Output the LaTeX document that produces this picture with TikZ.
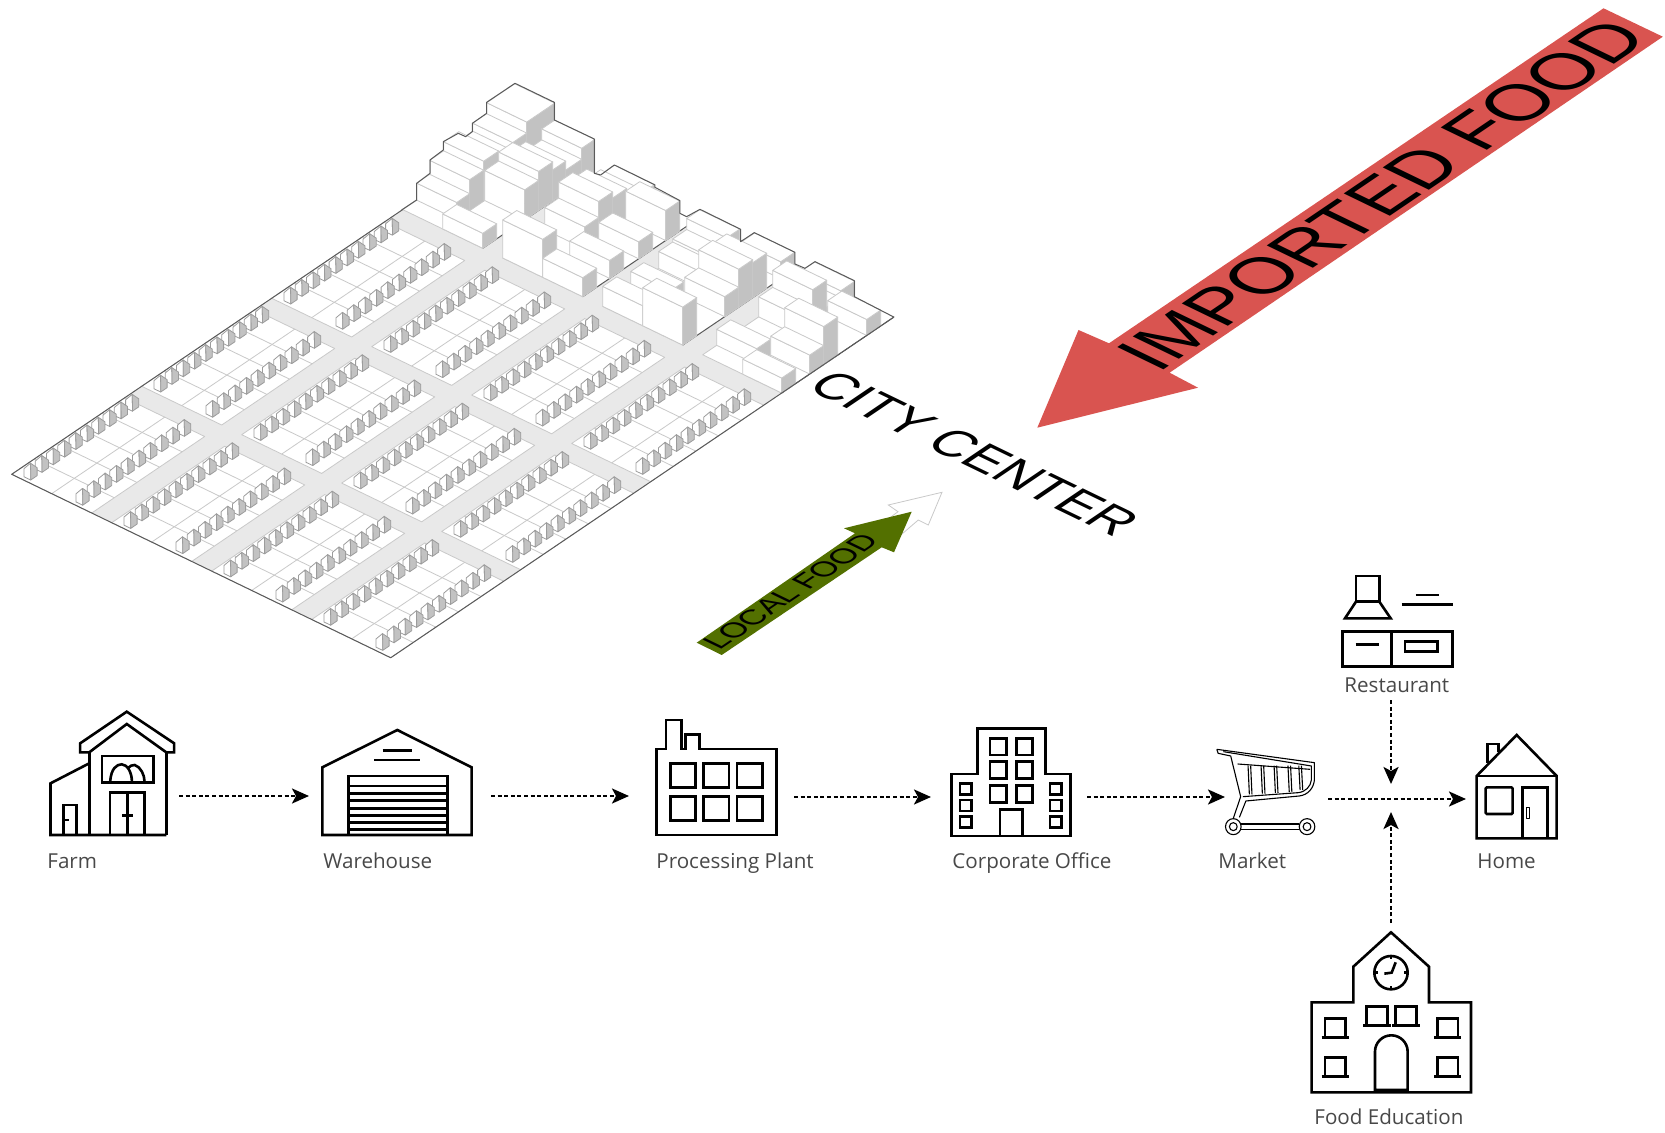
\documentclass[tikz,border=0pt]{standalone}
\usepackage{fontspec}
\setmainfont{Open Sans}
\newfontfamily\isofont{Liberation Sans}
\usetikzlibrary{arrows.meta}

% small house at lot position: front corner a=#1, b=#2
\newcommand{\lothouse}[2]{%
  \filldraw[houseline, fill=white] (#1,#2-6.8,0) -- (#1,#2,0) -- (#1,#2,8) -- (#1+3.2,#2-3.4,13) -- (#1,#2-6.8,8) -- cycle;
  \filldraw[houseline, fill=facegray] (#1,#2,0) -- (#1+6.4,#2,0) -- (#1+6.4,#2,8) -- (#1+3.2,#2-3.4,13) -- (#1,#2,8) -- cycle;
}
% block: a1, a2, b1, b2, height
\newcommand{\bldgbox}[5]{%
  \filldraw[lotline, fill=white] (#1,#3,0) -- (#1,#4,0) -- (#1,#4,#5) -- (#1,#3,#5) -- cycle;
  \filldraw[lotline, fill=facegray] (#1,#4,0) -- (#2,#4,0) -- (#2,#4,#5) -- (#1,#4,#5) -- cycle;
  \filldraw[lotline, fill=white] (#1,#3,#5) -- (#2,#3,#5) -- (#2,#4,#5) -- (#1,#4,#5) -- cycle;
}

\definecolor{roadgray}{HTML}{E9E9E9}
\definecolor{facegray}{HTML}{C2C2C2}
\definecolor{edgegray}{HTML}{5A5A5A}
\definecolor{linegray}{HTML}{C9C9C9}
\definecolor{housegray}{HTML}{9C9C9C}
\definecolor{importred}{HTML}{D95450}
\definecolor{localgreen}{HTML}{537000}
\definecolor{labelgray}{HTML}{484848}

\begin{document}
\begin{tikzpicture}[
  x=0.5pt, y=-0.5pt,
  lotline/.style={draw=linegray, line width=0.4pt, line join=round},
  houseline/.style={draw=housegray, line width=0.4pt, line join=round},
  edgeline/.style={draw=edgegray, line width=0.5pt, line join=round},
  icon/.style={draw=black, line width=1.3pt, line join=miter},
  iconthin/.style={draw=black, line width=0.55pt, line join=round},
  arr/.style={-{Stealth[length=8.5pt,width=7.5pt,inset=2pt]}, line width=1.3pt,
              dash pattern=on 2pt off 1.3pt},
  lab/.style={font=\fontsize{10.3pt}{12pt}\selectfont, text=labelgray, anchor=base west, inner sep=0pt},
  flat/.style={anchor=base west, inner sep=0pt, transform shape},
]
\useasboundingbox (0,0) rectangle (1665,1133);

% --- GROUND, in plan coordinates ---
\begin{scope}[shift={(11.7,474.3)}, x={(0.5pt,0.3385pt)}, y={(0.5pt,-0.242pt)}, z={(0pt,0.5pt)}]
  \fill[roadgray] (0,0,0) -- (503,0,0) -- (503,379,0) -- (0,379,0) -- cycle;
  % --- LOTS ---
  \foreach \ca in {0,130,260}{
    \foreach \cb/\cw in {0/80,100/80,200/80,300/79}{
      \filldraw[lotline, fill=white] (\ca,\cb,0) -- (\ca+113,\cb,0) -- (\ca+113,\cb+\cw,0) -- (\ca,\cb+\cw,0) -- cycle;
      \draw[lotline] (\ca,\cb+40,0) -- (\ca+113,\cb+40,0);
      \foreach \k in {1,...,4}{
        \draw[lotline] (\ca+\k*22.6,\cb,0) -- (\ca+\k*22.6,\cb+\cw,0);
      }
      \foreach \k in {9,8,...,0}{
        \pgfmathsetmacro{\ha}{\ca+3+\k*11.3}
        \lothouse{\ha}{\cb+16}
        \lothouse{\ha}{\cb+68}
      }
    }
  }
  % --- BUILDING ZONES ---
  \foreach \cb/\cw in {0/80,100/80,200/80,300/79}{
    \fill[white] (391,\cb,0) -- (503,\cb,0) -- (503,\cb+\cw,0) -- (391,\cb+\cw,0) -- cycle;
    \draw[lotline] (503,\cb,0) -- (391,\cb,0) -- (391,\cb+\cw,0);
    \draw[edgeline] (391,\cb+\cw,0) -- (503,\cb+\cw,0);
  }
  % zone 1
  \bldgbox{475}{503}{0}{40}{50}
  \bldgbox{461}{475}{0}{40}{39}
  \bldgbox{447}{461}{0}{40}{31}
  \bldgbox{432}{447}{0}{40}{40}
  \bldgbox{418}{432}{0}{40}{31}
  \bldgbox{405}{418}{0}{40}{17}
  \bldgbox{490}{503}{40}{80}{33}
  \bldgbox{474}{490}{40}{80}{22}
  \bldgbox{461}{474}{40}{80}{31}
  \bldgbox{447}{461}{40}{80}{39}
  \bldgbox{433}{447}{40}{80}{30}
  \bldgbox{391}{405}{40}{80}{15}
  % zone 2
  \bldgbox{489}{503}{100}{140}{17}
  \bldgbox{475}{489}{100}{140}{22}
  \bldgbox{461}{475}{100}{140}{32}
  \bldgbox{447}{461}{100}{140}{38}
  \bldgbox{433}{447}{100}{140}{22}
  \bldgbox{391}{405}{100}{140}{38}
  \bldgbox{474}{488}{140}{180}{30}
  \bldgbox{447}{461}{140}{180}{17}
  \bldgbox{418}{432}{140}{180}{18}
  \bldgbox{391}{405}{140}{180}{19}
  % zone 3
  \bldgbox{475}{488}{200}{240}{31}
  \bldgbox{461}{475}{200}{240}{20}
  \bldgbox{447}{461}{200}{240}{17}
  \bldgbox{419}{432}{200}{240}{16}
  \bldgbox{391}{405}{200}{240}{20}
  \bldgbox{489}{503}{240}{280}{17}
  \bldgbox{461}{475}{240}{280}{35}
  \bldgbox{447}{461}{240}{280}{38}
  \bldgbox{433}{447}{240}{280}{20}
  \bldgbox{391}{405}{240}{280}{38}
  % zone 4
  \bldgbox{489}{503}{300}{340}{17}
  \bldgbox{475}{489}{300}{340}{10}
  \bldgbox{461}{475}{300}{340}{37}
  \bldgbox{447}{461}{300}{340}{20}
  \bldgbox{405}{419}{300}{340}{16}
  \bldgbox{476}{490}{340}{379}{16}
  \bldgbox{433}{447}{340}{379}{38}
  \bldgbox{419}{433}{340}{379}{19}
  \bldgbox{391}{405}{340}{379}{15}
  % outer edge
  \draw[edgeline] (391,0,0) -- (0,0,0) -- (0,379,0) -- (503,379,0);
\end{scope}
% --- skyline ---
\begin{scope}[shift={(400,70)}, scale=0.3333]
  \draw[edgeline] (5,420) -- (50,390) -- (50,340) -- (90,310) -- (90,270) -- (130,240) -- (130,215) -- (175,190)
    -- (197,200) -- (217,185) -- (217,160) -- (260,130) -- (260,97) -- (345,40) -- (463,97) -- (463,150)
    -- (583,207) -- (583,310) -- (602,315) -- (643,285) -- (765,345) -- (765,352) -- (840,392) -- (840,430) -- (860,440)
    -- (900,418) -- (1022,478) -- (1022,515) -- (1063,488) -- (1185,547) -- (1185,582) -- (1215,595)
    -- (1245,575) -- (1363,632) -- (1363,680) -- (1483,742);
\end{scope}

% --- ARROWS ON THE GROUND ---
\fill[importred] (1603.5,8.3) -- (1662.8,36.7) -- (1169.6,372.7) -- (1198,387.7) -- (1037.3,427.7)
  -- (1078.5,330) -- (1109,343.3) -- cycle;
\node[flat, font=\isofont\fontsize{30pt}{30pt}\selectfont, cm={0.976,0.661,-1.117,0.541,(1158,373.6)}]
  (imported) at (0,0) {IMPORTED FOOD};
\node[flat, font=\isofont\fontsize{25pt}{25pt}\selectfont, cm={0.928,-0.449,0.84,0.569,(805,388)}]
  (citycenter) at (0,0) {CITY CENTER};
\filldraw[draw=linegray, fill=white, line width=0.4pt] (942,492.3) -- (928.3,525) -- (918.3,520) -- (895,540)
  -- (880,525) -- (898,511.7) -- (888.3,505) -- cycle;
\fill[localgreen] (696.7,642.7) -- (855,533.3) -- (844,528.3) -- (911.7,511.7) -- (894,552.3) -- (881.7,547.3)
  -- (721.7,655) -- cycle;
\node[flat, font=\isofont\fontsize{14pt}{14pt}\selectfont, cm={0.893,0.604,-0.97,0.47,(719,651)}]
  (localfood) at (0,0) {LOCAL FOOD};

% --- FARM + WAREHOUSE ---
\begin{scope}[shift={(30,700)}, xscale=0.395, yscale=0.3333]
  \draw[icon] (127,130) -- (245,35) -- (365,130) -- (365,157) -- (345,157) -- (245,72) -- (150,157) -- (127,157) -- cycle;
  \draw[icon] (150,157) -- (150,405);
  \draw[icon] (345,157) -- (345,405);
  \draw[icon] (150,190) -- (52,250) -- (52,405) -- (345,405);
  \draw[icon] (182,168) rectangle (312,247);
  \draw[icon] (203,245) .. controls (205,205) and (220,193) .. (232,193) .. controls (245,193) and (258,215) .. (258,245);
  \draw[icon] (247,205) .. controls (252,197) and (260,195) .. (265,195) .. controls (280,200) and (290,225) .. (290,245);
  \draw[icon] (203,405) -- (203,277) -- (290,277) -- (290,405);
  \draw[icon] (247,277) -- (247,405);
  \draw[icon] (233,347) -- (260,347);
  \draw[icon] (85,405) -- (85,315) -- (118,315) -- (118,405);
  \draw[icon] (85,360) -- (98,360);
  \draw[icon] (740,405) -- (740,202) -- (930,90) -- (1118,202) -- (1118,405) -- cycle;
  \draw[icon] (893,152) -- (968,152);
  \draw[icon] (872,180) -- (988,180);
  \draw[icon] (807,405) -- (807,228) -- (1057,228) -- (1057,405);
  \foreach \sy in {258,280,302,325,347,368,388}{
    \draw[icon] (807,\sy) -- (1057,\sy);
  }
\end{scope}
% --- PLANT + OFFICE + MARKET ---
\begin{scope}[shift={(640,700)}, xscale=0.4337, yscale=0.3333]
  \draw[icon] (38,405) -- (38,147) -- (60,147) -- (60,60) -- (95,60) -- (95,147) -- (105,147) -- (105,103) -- (137,103)
    -- (137,147) -- (315,147) -- (315,405) -- cycle;
  \foreach \wx in {70,147,224}{
    \draw[icon] (\wx,190) rectangle (\wx+58,262);
    \draw[icon] (\wx,290) rectangle (\wx+58,362);
  }
  \draw[icon] (718,408) -- (718,222) -- (778,222) -- (778,85) -- (935,85) -- (935,222) -- (992,222) -- (992,408) -- cycle;
  \foreach \wy in {115,185,257}{
    \draw[icon] (807,\wy) rectangle (845,\wy+50);
    \draw[icon] (868,\wy) rectangle (905,\wy+50);
  }
  \foreach \wy in {250,300,350}{
    \draw[icon] (738,\wy) rectangle (765,\wy+33);
    \draw[icon] (945,\wy) rectangle (972,\wy+33);
  }
  \draw[icon] (830,408) -- (830,328) -- (882,328) -- (882,408);
  % cart
  \draw[iconthin] (1330,148) -- (1555,188) -- (1555,240) .. controls (1553,265) and (1540,285) .. (1520,288) -- (1397,303)
    -- (1382,352);
  \draw[iconthin] (1330,148) -- (1333,160) -- (1362,168) -- (1385,290) -- (1368,355);
  \draw[iconthin] (1345,155) -- (1548,198) -- (1548,240) .. controls (1546,260) and (1535,275) .. (1518,278) -- (1390,290);
  \draw[iconthin] (1378,192) -- (1545,208);
  \foreach \sx/\sb in {1405/283,1435/281,1465/279,1497/276,1522/270}{
    \draw[iconthin] (\sx-3,197) -- (\sx,\sb);
    \draw[iconthin] (\sx+3,197) -- (\sx+6,\sb);
  }
  \draw[iconthin] (1368,380) ellipse [x radius=18, y radius=24];
  \draw[iconthin] (1368,380) ellipse [x radius=9, y radius=12];
  \draw[iconthin] (1538,380) ellipse [x radius=18, y radius=24];
  \draw[iconthin] (1538,380) ellipse [x radius=9, y radius=12];
  \draw[iconthin] (1386,372) -- (1520,372);
  \draw[iconthin] (1386,388) -- (1520,388);
\end{scope}
% --- RESTAURANT + HOME ---
\begin{scope}[shift={(1290,560)}, scale=0.3333]
  \draw[icon] (198,48) rectangle (268,125);
  \draw[icon] (198,125) -- (268,125) -- (302,175) -- (165,175) -- cycle;
  \draw[icon] (377,105) -- (447,105);
  \draw[icon] (335,133) -- (488,133);
  \draw[icon] (158,215) rectangle (487,320);
  \draw[icon] (305,215) -- (305,320);
  \draw[icon] (197,253) -- (267,253);
  \draw[icon] (345,245) rectangle (442,275);
  \draw[icon] (560,648) -- (680,525) -- (800,648) -- (800,835) -- (560,835) -- cycle;
  \draw[iconthin] (560,648) -- (800,648);
  \draw[icon] (593,608) -- (593,552) -- (625,552) -- (625,575);
  \draw[icon, rounded corners=0.6pt] (587,682) rectangle (668,762);
  \draw[icon] (698,835) -- (698,682) -- (773,682) -- (773,835);
  \draw[iconthin] (710,743) rectangle (718,775);
\end{scope}
% --- SCHOOL ---
\begin{scope}[shift={(1290,900)}, scale=0.3333]
  \draw[icon] (65,577) -- (65,307) -- (190,307) -- (190,200) -- (303,97) -- (417,200) -- (417,307) -- (543,307) -- (543,577) -- cycle;
  \draw[icon] (303,218) circle [radius=50];
  \draw[icon] (283,221) -- (305,218) -- (317,187);
  \foreach \tx/\ty/\ux/\uy in {303/168/303/178,303/268/303/258,253/218/263/218,353/218/343/218}{
    \draw[icon] (\tx,\ty) -- (\ux,\uy);
  }
  \foreach \wx/\wy in {230/320,317/320,105/355,105/472,442/355,442/472}{
    \draw[icon] (\wx,\wy+57) -- (\wx,\wy) -- (\wx+62,\wy) -- (\wx+62,\wy+57);
    \draw[icon] (\wx-10,\wy+57) -- (\wx+72,\wy+57);
  }
  \draw[icon] (255,570) -- (255,455) arc[start angle=180, end angle=360, radius=49] -- (353,570) -- cycle;
\end{scope}

% --- LABELS ---
\node[lab] (farm) at (47,868) {Farm};
\node[lab] (warehouse) at (323,868) {Warehouse};
\node[lab] (plant) at (656,868) {Processing Plant};
\node[lab] (office) at (952,868) {Corporate Office};
\node[lab] (market) at (1218,868) {Market};
\node[lab] (home) at (1477,868) {Home};
\node[lab] (restaurant) at (1344,692.7) {Restaurant};
\node[lab] (education) at (1314,1124) {Food Education};

% --- FLOW ---
\coordinate (farmE) at (179,796);
\coordinate (whW) at (309,796);
\coordinate (whE) at (491,796);
\coordinate (plantW) at (629,796);
\coordinate (plantE) at (794,797);
\coordinate (officeW) at (931,797);
\coordinate (officeE) at (1087,797);
\coordinate (marketW) at (1225,797);
\coordinate (marketE) at (1328,799);
\coordinate (homeW) at (1466,799);
\coordinate (restS) at (1391,700);
\coordinate (crossN) at (1391,784);
\coordinate (schoolN) at (1391,923);
\coordinate (crossS) at (1391,812);
\draw[arr] (farmE) -- (whW);
\draw[arr] (whE) -- (plantW);
\draw[arr] (plantE) -- (officeW);
\draw[arr] (officeE) -- (marketW);
\draw[arr] (marketE) -- (homeW);
\draw[arr] (restS) -- (crossN);
\draw[arr] (schoolN) -- (crossS);
\end{tikzpicture}
\end{document}
